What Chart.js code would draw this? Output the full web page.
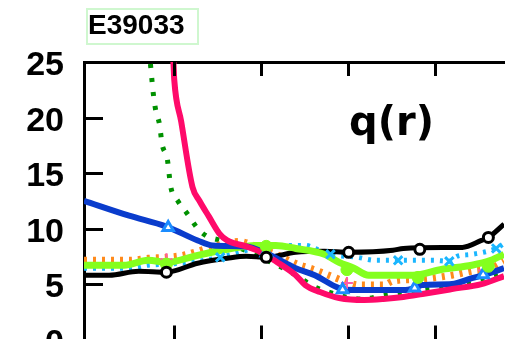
<!DOCTYPE html>
<html>
<head>
<meta charset="utf-8">
<script src="https://cdn.jsdelivr.net/npm/chart.js@4"></script>
<style>
html,body{margin:0;padding:0;background:#fff;overflow:hidden;}
#wrap{position:relative;width:513px;height:339px;overflow:hidden;background:#fff;}
#c{position:absolute;left:0;top:0;}
#tag{position:absolute;left:86px;top:8px;width:109px;height:32px;padding-top:1px;border:2px solid #cff7cf;
  font-family:"Liberation Sans",Arial,sans-serif;font-weight:bold;font-size:28px;line-height:28px;color:#000;white-space:nowrap;}
#qr{position:absolute;left:349px;top:101px;font-family:"DejaVu Sans",sans-serif;font-weight:bold;font-size:40px;line-height:40px;color:#000;white-space:nowrap;}
</style>
</head>
<body>
<div id="wrap">
  <canvas id="c" width="513" height="380"></canvas>
  <div id="tag">E39033</div>
  <div id="qr">q(r)</div>
</div>
<script>
// ---- data ----
const xTicks = [1, 2, 3, 4];
const yTicks = [0, 5, 10, 15, 20, 25];

const blackR = [-0.04, 0.25, 0.59, 0.91, 1.27, 1.61, 1.83, 2.06, 2.40, 2.73, 3.01, 3.52, 3.64, 4.09, 4.32, 4.54, 4.62, 4.80];
const blackQ = [5.80, 5.80, 6.16, 6.07, 6.88, 7.32, 7.50, 7.41, 7.86, 7.95, 7.86, 8.04, 8.21, 8.30, 8.30, 8.93, 9.20, 10.4];
const blackMarkR = [0.91, 2.06, 3.01, 3.83, 4.62];
const blackMarkQ = [6.07, 7.41, 7.86, 8.13, 9.20];

const limeR = [-0.04, 0.42, 0.70, 0.91, 1.27, 1.61, 1.94, 2.17, 2.40, 2.73, 2.90, 3.07, 3.24, 3.75, 4.09, 4.43, 4.65, 4.80];
const limeQ = [6.70, 6.70, 7.14, 6.96, 7.59, 8.13, 8.48, 8.48, 8.21, 7.68, 6.96, 6.43, 5.80, 5.80, 6.34, 6.70, 7.14, 7.68];
const limeMarkR = [0.91, 2.06, 2.99, 3.81, 4.62];
const limeMarkQ = [6.8, 8.4, 6.3, 5.6, 6.6];

const blueR = [-0.04, 0.48, 0.91, 1.27, 1.44, 1.83, 2.06, 2.40, 2.62, 2.90, 3.07, 3.64, 3.77, 3.86, 4.20, 4.43, 4.56, 4.80];
const blueQ = [12.5, 11.16, 10.18, 8.93, 8.48, 8.39, 7.77, 6.43, 5.80, 4.64, 4.46, 4.46, 4.64, 4.91, 5.00, 5.54, 5.80, 6.43];
const blueMarkR = [0.93, 2.06, 2.94, 3.77, 4.56];
const blueMarkQ = [10.1, 7.8, 4.5, 4.64, 5.85];

const pinkR = [0.97, 0.99, 1.00, 1.08, 1.21, 1.29, 1.40, 1.52, 1.61, 1.83, 2.00, 2.17, 2.40, 2.51, 2.68, 2.90, 3.19, 3.41, 3.64, 3.86, 4.20, 4.54, 4.80];
const pinkQ = [25.9, 25.0, 23.4, 19.64, 13.75, 12.50, 11.07, 9.55, 8.93, 8.39, 7.86, 7.05, 5.80, 4.91, 4.29, 3.75, 3.57, 3.66, 3.84, 4.11, 4.55, 5.00, 5.71];

const greenR = [0.71, 0.73, 0.76, 0.79, 0.83, 0.86, 0.92, 0.96, 1.04, 1.15, 1.27, 1.38, 1.49, 1.61, 1.89, 2.19, 2.42, 2.60, 2.81, 3.03, 3.19, 3.41, 3.83, 4.15, 4.43, 4.69, 4.80];
const greenQ = [26.07, 24.46, 22.05, 20.5, 19.4, 17.6, 16.25, 13.75, 12.50, 11.34, 10.0, 9.29, 9.02, 8.75, 7.77, 6.70, 5.71, 4.82, 4.20, 3.75, 3.66, 4.02, 4.46, 4.82, 5.27, 5.80, 6.07];

const orangeR = [-0.04, 0.48, 0.70, 0.91, 1.10, 1.27, 1.49, 1.75, 1.94, 2.17, 2.42, 2.60, 2.81, 2.99, 3.13, 3.41, 3.52, 3.86, 4.20, 4.43, 4.65, 4.80];
const orangeQ = [7.14, 7.14, 7.32, 7.41, 7.59, 7.95, 8.48, 8.84, 8.39, 7.68, 6.79, 6.34, 5.71, 5.18, 4.91, 4.91, 5.27, 5.45, 5.80, 6.16, 6.43, 7.05];
const orangeMarkR = [0.91, 2.99, 4.57];
const orangeMarkQ = [7.23, 5.09, 6.25];

const lightR = [-0.04, 0.48, 0.70, 0.93, 1.27, 1.53, 1.78, 2.00, 2.19, 2.51, 2.62, 2.80, 3.11, 3.32, 3.98, 4.17, 4.26, 4.43, 4.71, 4.80];
const lightQ = [6.43, 6.43, 6.70, 6.79, 7.05, 7.41, 7.95, 8.30, 8.48, 8.48, 8.21, 7.68, 7.41, 7.14, 7.14, 7.05, 7.50, 7.68, 8.21, 8.66];
const lightMarkR = [1.53, 2.80, 3.58, 4.17, 4.71];
const lightMarkQ = [7.41, 7.68, 7.14, 7.05, 8.21];

// ---- build ----
const pts = (r, q) => r.map((x, i) => ({x: x, y: q[i]}));

function lineDs(r, q, color, width, dash, order) {
  return {
    data: pts(r, q), borderColor: color, borderWidth: width, borderDash: dash || [],
    pointRadius: 0, fill: false, showLine: true, cubicInterpolationMode: 'monotone',
    borderJoinStyle: 'round', borderCapStyle: 'butt', order: order
  };
}
function markDs(r, q, style, radius, fillColor, strokeColor, bw) {
  return {
    data: pts(r, q), showLine: false, pointStyle: style, pointRadius: radius,
    pointBackgroundColor: fillColor, pointBorderColor: strokeColor, pointBorderWidth: bw, order: 0
  };
}

const datasets = [
  lineDs(greenR, greenQ, '#009100', 5, [4, 10], 7),
  lineDs(orangeR, orangeQ, '#ff8a1c', 7, [3, 6], 6),
  lineDs(lightR, lightQ, '#1ab6ff', 5, [3, 6], 5),
  lineDs(blackR, blackQ, '#000000', 5, null, 4),
  lineDs(limeR, limeQ, '#84ff1e', 7, null, 3),
  lineDs(blueR, blueQ, '#0a3ccc', 6, null, 2),
  lineDs(pinkR, pinkQ, '#ff0a6a', 6, null, 1),
  markDs(blackMarkR, blackMarkQ, 'circle', 5, '#ffffff', '#000000', 3),
  markDs(limeMarkR, limeMarkQ, 'circle', 6, '#84ff1e', '#84ff1e', 1),
  markDs(blueMarkR, blueMarkQ, 'triangle', 6, '#ffffff', '#1a8cff', 3),
  markDs(orangeMarkR, orangeMarkQ, 'cross', 6, '#ff5aa8', '#ff5aa8', 2),
  markDs(lightMarkR, lightMarkQ, 'crossRot', 6, '#1ab6ff', '#1ab6ff', 3)
];

const innerTicks = {
  id: 'innerTicks',
  afterDraw(chart) {
    const {ctx, chartArea: a, scales: {x, y}} = chart;
    ctx.save();
    ctx.strokeStyle = '#000';
    ctx.lineWidth = 3;
    ctx.beginPath();
    xTicks.forEach(v => {
      const px = Math.round(x.getPixelForValue(v)) + 0.5;
      ctx.moveTo(px, a.top); ctx.lineTo(px, a.top + 14);
      ctx.moveTo(px, a.bottom); ctx.lineTo(px, a.bottom - 14);
    });
    yTicks.forEach(v => {
      if (v === 0 || v === 25) return;
      const py = Math.round(y.getPixelForValue(v)) + 0.5;
      ctx.moveTo(a.left, py); ctx.lineTo(a.left + 19, py);
    });
    ctx.stroke();
    ctx.restore();
  }
};

new Chart(document.getElementById('c'), {
  type: 'line',
  data: {datasets: datasets},
  options: {
    responsive: false,
    animation: false,
    layout: {padding: {left: 0, right: 0, top: 0, bottom: 38}},
    plugins: {legend: {display: false}, tooltip: {enabled: false}},
    scales: {
      x: {
        type: 'linear', position: 'top', min: -0.04, max: 4.80,
        afterFit: s => { s.height = 62; },
        grid: {display: true, drawOnChartArea: false, drawTicks: false},
        border: {display: true, width: 3, color: '#000'},
        ticks: {display: false}
      },
      y: {
        type: 'linear', position: 'left', min: 0, max: 25,
        afterFit: s => { s.width = 84; },
        afterBuildTicks: s => { s.ticks = yTicks.map(v => ({value: v})); },
        grid: {display: true, drawOnChartArea: false, drawTicks: false},
        border: {display: true, width: 3, color: '#000'},
        ticks: {
          color: '#000', padding: 20, labelOffset: 4,
          font: {family: '"Liberation Sans", Arial, sans-serif', size: 34, weight: 'bold'}
        }
      }
    }
  },
  plugins: [innerTicks]
});
</script>
</body>
</html>
